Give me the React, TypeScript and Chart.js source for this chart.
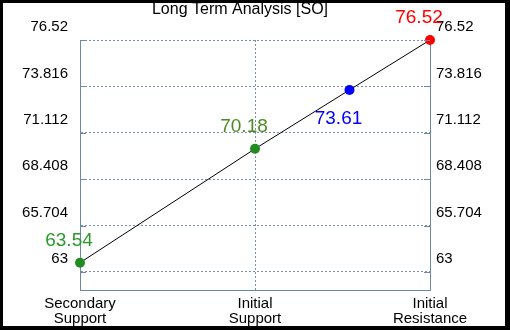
import React, { useEffect, useRef } from "react";
import { Chart, registerables } from "chart.js";

Chart.register(...registerables);

const TITLE = "Long Term Analysis [SO]";
const CATEGORIES = [["Secondary", "Support"], ["Initial", "Support"], ["Initial", "Resistance"]];
const CATEGORY_X = [0, 1, 2];
const POINT_X = [0, 1, 1.54, 2];
const POINT_Y = [63.54, 70.18, 73.61, 76.52];
const POINT_COLORS = ["#228b22", "#228b22", "#0000ff", "#ff0000"];
const LABEL_COLORS = ["#2a9a2a", "#4b8a25", "#0000ff", "#ff0000"];
const LABEL_POS = ["above", "above", "below", "above"];
const Y_TICKS = [63, 65.704, 68.408, 71.112, 73.816, 76.52];
const Y_TICK_LABELS = ["63", "65.704", "68.408", "71.112", "73.816", "76.52"];
const Y_MIN = 61.95;
const Y_MAX = 76.52;

const FONT = "'Liberation Sans', Arial, sans-serif";
const AXIS_COLOR = "#6e86aa";
const GRID_COLOR = "#7d8fb0";

export default function App() {
  const ref = useRef<HTMLCanvasElement>(null);

  useEffect(() => {
    if (!ref.current) return;
    Chart.defaults.font.family = FONT;

    const overlay = {
      id: "overlay",
      afterDatasetsDraw(chart: any) {
        const ctx = chart.ctx;
        const area = chart.chartArea;
        const yScale = chart.scales.y;
        ctx.save();
        ctx.strokeStyle = AXIS_COLOR;
        ctx.lineWidth = 1;
        Y_TICKS.forEach((v) => {
          const py = Math.round(yScale.getPixelForValue(v)) + 0.5;
          ctx.beginPath();
          ctx.moveTo(area.left, py);
          ctx.lineTo(area.left + 6, py);
          ctx.moveTo(area.right - 6, py);
          ctx.lineTo(area.right, py);
          ctx.stroke();
        });
        ctx.restore();
        ctx.save();
        ctx.fillStyle = "#000";
        ctx.font = `16px ${FONT}`;
        ctx.textAlign = "center";
        ctx.textBaseline = "middle";
        ctx.fillText(TITLE, 237, 7);
        ctx.restore();
        const meta = chart.getDatasetMeta(0);
        ctx.save();
        ctx.font = `19px ${FONT}`;
        ctx.textAlign = "center";
        ctx.textBaseline = "middle";
        meta.data.forEach((pt: any, i: number) => {
          const dy = LABEL_POS[i] === "above" ? -22 : 29;
          ctx.fillStyle = LABEL_COLORS[i];
          ctx.fillText(POINT_Y[i].toFixed(2), pt.x - 11, pt.y + dy);
        });
        ctx.restore();
      },
    };

    const chart = new Chart(ref.current, {
      type: "scatter",
      data: {
        datasets: [
          {
            data: POINT_X.map((x, i) => ({ x, y: POINT_Y[i] })),
            showLine: true,
            borderColor: "#000",
            borderWidth: 1,
            pointRadius: 5,
            pointHoverRadius: 5,
            pointBackgroundColor: POINT_COLORS,
            pointBorderColor: POINT_COLORS,
            pointBorderWidth: 0,
            clip: false,
          } as any,
        ],
      },
      options: {
        animation: false,
        responsive: false,
        devicePixelRatio: 1,
        layout: { padding: { top: 37, left: 0, right: 0, bottom: 0 } },
        plugins: {
          legend: { display: false },
          title: { display: false },
          tooltip: { enabled: false },
        },
        scales: {
          x: {
            type: "linear",
            min: 0,
            max: 2,
            afterBuildTicks: (s: any) => {
              s.ticks = CATEGORY_X.map((v) => ({ value: v }));
            },
            afterFit: (s: any) => {
              s.height = 36;
            },
            ticks: {
              autoSkip: false,
              maxRotation: 0,
              padding: 6,
              color: "#000",
              font: { size: 15, lineHeight: 1.0 },
              callback: (v: any) => {
                const i = CATEGORY_X.indexOf(Number(v));
                return i >= 0 ? CATEGORIES[i] : "";
              },
            },
            grid: { color: GRID_COLOR, drawTicks: false, tickLength: 0 },
            border: { display: true, color: AXIS_COLOR, width: 1, dash: [2, 2] },
          } as any,
          y: {
            type: "linear",
            position: "left",
            min: Y_MIN,
            max: Y_MAX,
            afterBuildTicks: (s: any) => {
              s.ticks = Y_TICKS.map((v) => ({ value: v }));
            },
            afterFit: (s: any) => {
              s.width = 77;
            },
            ticks: {
              autoSkip: false,
              padding: 12,
              labelOffset: -13,
              color: "#000",
              font: { size: 15 },
              callback: (v: any) => {
                const i = Y_TICKS.indexOf(Number(v));
                return i >= 0 ? Y_TICK_LABELS[i] : "";
              },
            },
            grid: { color: GRID_COLOR, drawTicks: false, tickLength: 0 },
            border: { display: true, color: AXIS_COLOR, width: 1, dash: [2, 2] },
          } as any,
          y2: {
            type: "linear",
            position: "right",
            min: Y_MIN,
            max: Y_MAX,
            afterBuildTicks: (s: any) => {
              s.ticks = Y_TICKS.map((v) => ({ value: v }));
            },
            afterFit: (s: any) => {
              s.width = 75;
            },
            ticks: {
              autoSkip: false,
              padding: 6,
              labelOffset: -13,
              color: "#000",
              font: { size: 15 },
              callback: (v: any) => {
                const i = Y_TICKS.indexOf(Number(v));
                return i >= 0 ? Y_TICK_LABELS[i] : "";
              },
            },
            grid: { display: false, drawTicks: false, tickLength: 0 },
            border: { display: true, color: AXIS_COLOR, width: 1 },
          } as any,
        },
      },
      plugins: [overlay],
    } as any);

    return () => chart.destroy();
  }, []);

  return (
    <div style={{ position: "fixed", inset: 0, background: "#000" }}>
      <div style={{ position: "absolute", left: 3, top: 3, width: 502, height: 323, background: "#fff" }}>
        <canvas ref={ref} width={502} height={323} style={{ display: "block", width: 502, height: 323 }} />
      </div>
    </div>
  );
}
